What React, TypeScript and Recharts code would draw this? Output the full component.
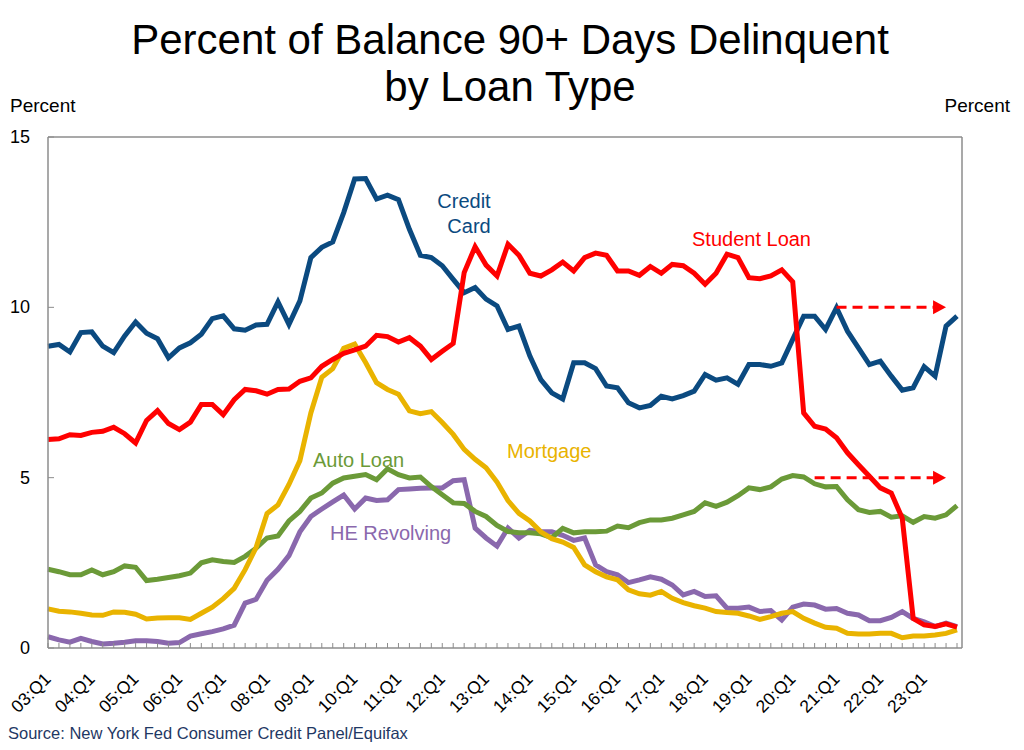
import { LineChart, Line, XAxis, YAxis, ReferenceLine, ReferenceDot } from 'recharts';

const years = ['03', '04', '05', '06', '07', '08', '09', '10', '11', '12', '13', '14', '15', '16', '17', '18', '19', '20', '21', '22', '23'];
const quarters = years.flatMap(y => [`${y}:Q1`, `${y}:Q2`, `${y}:Q3`, `${y}:Q4`]);

const creditCard = [
  8.86, 8.91, 8.69, 9.26, 9.28, 8.86, 8.67, 9.16, 9.57, 9.24, 9.08, 8.52, 8.81, 8.96, 9.21, 9.67,
  9.75, 9.37, 9.33, 9.48, 9.5, 10.16, 9.5, 10.19, 11.46, 11.76, 11.92, 12.78, 13.77, 13.78, 13.18, 13.29,
  13.16, 12.29, 11.53, 11.46, 11.22, 10.82, 10.43, 10.58, 10.24, 10.04, 9.35, 9.45, 8.57, 7.88, 7.49, 7.31,
  8.37, 8.37, 8.2, 7.69, 7.64, 7.2, 7.05, 7.12, 7.39, 7.31, 7.41, 7.54, 8.03, 7.86, 7.93, 7.74,
  8.32, 8.32, 8.27, 8.37, 9.06, 9.74, 9.74, 9.35, 9.99, 9.3, 8.81, 8.32, 8.42, 7.98, 7.57, 7.64,
  8.26, 7.98, 9.45, 9.74,
];

const studentLoan = [
  6.12, 6.14, 6.26, 6.24, 6.33, 6.36, 6.48, 6.29, 6.02, 6.68, 6.97, 6.59, 6.41, 6.63, 7.15, 7.15,
  6.85, 7.29, 7.59, 7.55, 7.45, 7.59, 7.6, 7.83, 7.93, 8.27, 8.47, 8.65, 8.75, 8.86, 9.18, 9.14,
  8.98, 9.11, 8.86, 8.47, 8.71, 8.94, 11.02, 11.78, 11.24, 10.92, 11.85, 11.53, 11.0, 10.92, 11.1, 11.33,
  11.07, 11.46, 11.59, 11.53, 11.07, 11.07, 10.94, 11.2, 11.0, 11.26, 11.22, 11.0, 10.68, 11.0, 11.56, 11.46,
  10.87, 10.84, 10.92, 11.1, 10.75, 6.9, 6.51, 6.43, 6.17, 5.73, 5.38, 5.04, 4.7, 4.55, 3.81, 0.87,
  0.68, 0.63, 0.71, 0.61,
];

const autoLoan = [
  2.31, 2.24, 2.15, 2.15, 2.29, 2.15, 2.24, 2.41, 2.37, 1.98, 2.02, 2.07, 2.12, 2.2, 2.5, 2.59,
  2.54, 2.51, 2.69, 2.93, 3.23, 3.29, 3.73, 4.01, 4.4, 4.55, 4.84, 4.99, 5.04, 5.09, 4.94, 5.26,
  5.09, 4.99, 5.02, 4.74, 4.5, 4.26, 4.24, 4.01, 3.86, 3.6, 3.42, 3.38, 3.38, 3.35, 3.24, 3.51,
  3.38, 3.41, 3.41, 3.43, 3.58, 3.53, 3.68, 3.76, 3.76, 3.81, 3.91, 4.01, 4.26, 4.16, 4.28, 4.47,
  4.7, 4.65, 4.73, 4.96, 5.06, 5.02, 4.82, 4.73, 4.74, 4.35, 4.06, 3.98, 4.01, 3.84, 3.88, 3.69,
  3.86, 3.81, 3.91, 4.18,
];

const mortgage = [
  1.15, 1.08, 1.06, 1.02, 0.97, 0.96, 1.06, 1.05, 0.99, 0.85, 0.88, 0.89, 0.89, 0.84, 1.02, 1.2,
  1.45, 1.75, 2.3, 2.95, 3.95, 4.2, 4.8, 5.5, 6.9, 7.95, 8.2, 8.8, 8.92, 8.38, 7.79, 7.59,
  7.45, 6.96, 6.88, 6.94, 6.62, 6.27, 5.83, 5.54, 5.29, 4.87, 4.33, 3.95, 3.73, 3.41, 3.21, 3.11,
  2.95, 2.44, 2.24, 2.09, 2.0, 1.71, 1.59, 1.55, 1.66, 1.46, 1.33, 1.24, 1.17, 1.07, 1.04, 1.02,
  0.94, 0.84, 0.92, 1.02, 1.07, 0.87, 0.73, 0.61, 0.58, 0.43, 0.41, 0.41, 0.43, 0.43, 0.3, 0.35,
  0.35, 0.38, 0.43, 0.53,
];

const heRevolving = [
  0.33, 0.24, 0.17, 0.28, 0.19, 0.12, 0.14, 0.17, 0.21, 0.21, 0.19, 0.14, 0.16, 0.35, 0.42, 0.48,
  0.56, 0.67, 1.32, 1.43, 1.99, 2.31, 2.71, 3.41, 3.86, 4.08, 4.29, 4.49, 4.08, 4.4, 4.33, 4.35,
  4.65, 4.67, 4.69, 4.7, 4.7, 4.91, 4.94, 3.52, 3.23, 2.99, 3.52, 3.23, 3.45, 3.41, 3.41, 3.31,
  3.16, 3.23, 2.44, 2.24, 2.15, 1.92, 2.0, 2.09, 2.02, 1.85, 1.56, 1.66, 1.51, 1.53, 1.17, 1.17,
  1.2, 1.07, 1.1, 0.82, 1.2, 1.29, 1.26, 1.14, 1.16, 1.02, 0.97, 0.8, 0.8, 0.9, 1.07, 0.87,
  0.77, 0.63, 0.73, 0.63,
];

const yTicks = [0, 5, 10, 15];

const data = quarters.map((q, i) => ({
  q,
  creditCard: creditCard[i],
  studentLoan: studentLoan[i],
  autoLoan: autoLoan[i],
  mortgage: mortgage[i],
  heRevolving: heRevolving[i],
}));

const FONT = '"Liberation Sans", Arial, sans-serif';
const AXIS = '#8c8c8c';
const BLUE = '#0b4a80';
const RED = '#ff0000';
const GREEN = '#6b9a38';
const GOLD = '#e9b300';
const PURPLE = '#8a68ad';

const XTick = (props: any) => {
  const { x, y, payload } = props;
  const label: string = payload.value;
  const ax = x + 4;
  const ay = y + 32;
  return (
    <g>
      <line x1={x} y1={y} x2={x} y2={y - 5} stroke={AXIS} strokeWidth={1} />
      {label.endsWith('Q1') && (
        <text x={ax} y={ay} transform={`rotate(-45 ${ax} ${ay})`} textAnchor="end" fontSize={17.5} fontFamily={FONT} fill="#000">
          {label}
        </text>
      )}
    </g>
  );
};

const LeftTick = (props: any) => {
  const { x, y, payload } = props;
  return (
    <g>
      <line x1={x} y1={y} x2={x + 6} y2={y} stroke={AXIS} strokeWidth={1} />
      <text x={x - 18} y={y + 6} textAnchor="end" fontSize={18} fontFamily={FONT} fill="#000">{payload.value}</text>
    </g>
  );
};

const RightTick = (props: any) => {
  const { x, y, payload } = props;
  return (
    <g>
      <line x1={x - 6} y1={y} x2={x} y2={y} stroke={AXIS} strokeWidth={1} />
      <text x={x + 14} y={y + 6} textAnchor="start" fontSize={18} fontFamily={FONT} fill="#000">{payload.value}</text>
    </g>
  );
};

const ArrowHead = (props: any) => {
  const { cx, cy } = props;
  return <polygon points={`${cx - 13},${cy - 7} ${cx},${cy} ${cx - 13},${cy + 7}`} fill={RED} />;
};

export default function App() {
  return (
    <div style={{ position: 'absolute', left: 0, top: 0, width: 1024, height: 750, background: '#fff' }}>
      <LineChart
        width={1024}
        height={750}
        data={data}
        margin={{ top: 137, left: 8, right: 22, bottom: 42 }}
      >
        <XAxis
          dataKey="q"
          ticks={quarters}
          interval={0}
          tick={<XTick />}
          tickLine={false}
          tickSize={0}
          tickMargin={0}
          height={60}
          padding={{ left: 0, right: 5 }}
          axisLine={{ stroke: AXIS, strokeWidth: 1.5 }}
        />
        <YAxis
          yAxisId="left"
          domain={[0, 15]}
          ticks={yTicks}
          width={40}
          tick={<LeftTick />}
          tickLine={false}
          tickSize={0}
          tickMargin={0}
          axisLine={{ stroke: AXIS, strokeWidth: 1.5 }}
        />
        <YAxis
          yAxisId="right"
          orientation="right"
          domain={[0, 15]}
          ticks={yTicks}
          width={40}
          tick={<RightTick />}
          tickLine={false}
          tickSize={0}
          tickMargin={0}
          axisLine={{ stroke: AXIS, strokeWidth: 1.5 }}
        />
        <ReferenceLine yAxisId="left" y={15} stroke={AXIS} strokeWidth={1.5} />

        <Line yAxisId="left" dataKey="heRevolving" stroke={PURPLE} strokeWidth={5} dot={false} isAnimationActive={false} />
        <Line yAxisId="left" dataKey="autoLoan" stroke={GREEN} strokeWidth={5} dot={false} isAnimationActive={false} />
        <Line yAxisId="left" dataKey="mortgage" stroke={GOLD} strokeWidth={5} dot={false} isAnimationActive={false} />
        <Line yAxisId="left" dataKey="creditCard" stroke={BLUE} strokeWidth={5} dot={false} isAnimationActive={false} />
        <Line yAxisId="left" dataKey="studentLoan" stroke={RED} strokeWidth={5} dot={false} isAnimationActive={false} />

        <ReferenceLine
          yAxisId="left"
          segment={[{ x: '21:Q1', y: 10 }, { x: '23:Q2', y: 10 }]}
          stroke={RED}
          strokeWidth={3}
          strokeDasharray="10 6"
        />
        <ReferenceDot yAxisId="left" x="23:Q3" y={10} shape={<ArrowHead />} />
        <ReferenceLine
          yAxisId="left"
          segment={[{ x: '20:Q3', y: 5 }, { x: '23:Q2', y: 5 }]}
          stroke={RED}
          strokeWidth={3}
          strokeDasharray="10 6"
        />
        <ReferenceDot yAxisId="left" x="23:Q3" y={5} shape={<ArrowHead />} />
      </LineChart>

      <svg width={1024} height={750} style={{ position: 'absolute', left: 0, top: 0, pointerEvents: 'none' }} fontFamily={FONT}>
        <text x={510} y={54} textAnchor="middle" fontSize={42} fill="#000">Percent of Balance 90+ Days Delinquent</text>
        <text x={510} y={101} textAnchor="middle" fontSize={42} fill="#000">by Loan Type</text>
        <text x={10} y={112} fontSize={19} fill="#000">Percent</text>
        <text x={1010} y={112} textAnchor="end" fontSize={19} fill="#000">Percent</text>

        <text x={464} y={208} textAnchor="middle" fontSize={20} fill={BLUE}>Credit</text>
        <text x={469} y={233} textAnchor="middle" fontSize={20} fill={BLUE}>Card</text>
        <text x={692} y={246} fontSize={20} fill={RED}>Student Loan</text>
        <text x={507} y={458} fontSize={20} fill={GOLD}>Mortgage</text>
        <text x={313} y={467} fontSize={20} fill={GREEN}>Auto Loan</text>
        <text x={330} y={540} fontSize={20} fill={PURPLE}>HE Revolving</text>

        <text x={8} y={739} fontSize={16.5} fill="#1f3864">Source: New York Fed Consumer Credit Panel/Equifax</text>
      </svg>
    </div>
  );
}
